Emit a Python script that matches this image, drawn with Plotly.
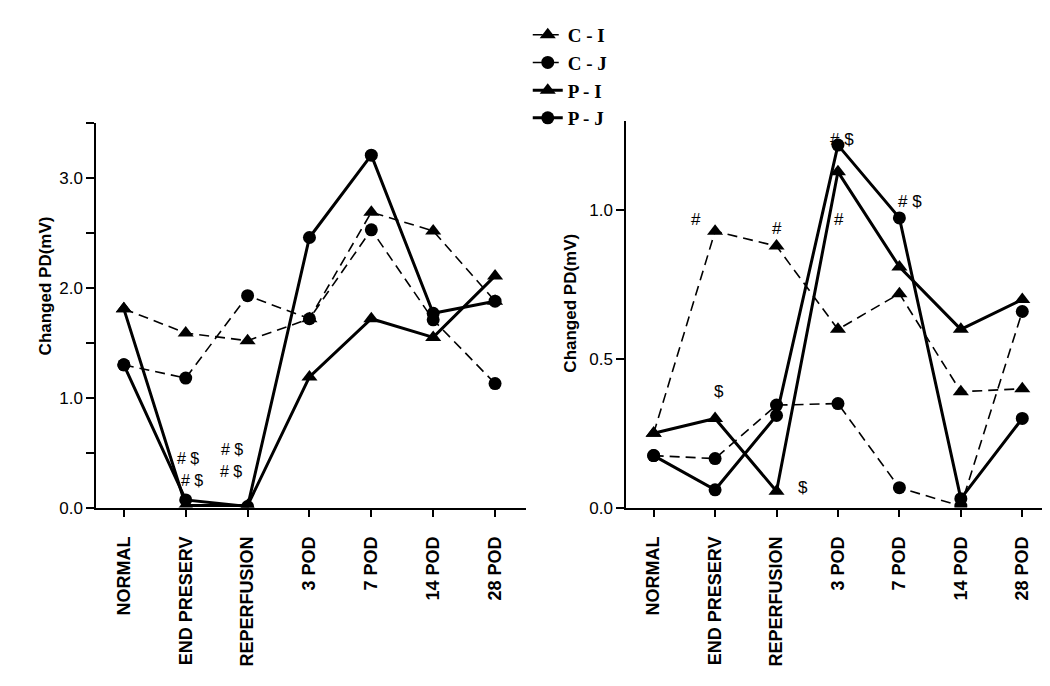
import plotly.graph_objects as go

# ---- data ----
stages = ["NORMAL", "END PRESERV", "REPERFUSION", "3 POD", "7 POD", "14 POD", "28 POD"]

# left panel
left_ci = [1.81, 1.59, 1.52, 1.72, 2.69, 2.52, 1.88]
left_cj = [1.30, 1.18, 1.93, 1.72, 2.53, 1.71, 1.13]
left_pi = [1.81, 0.02, 0.02, 1.19, 1.72, 1.55, 2.11]
left_pj = [1.30, 0.07, 0.01, 2.46, 3.21, 1.77, 1.88]

# right panel
right_ci = [0.25, 0.93, 0.88, 0.60, 0.72, 0.39, 0.40]
right_cj = [0.175, 0.165, 0.345, 0.35, 0.067, 0.005, 0.66]
right_pi = [0.25, 0.30, 0.055, 1.13, 0.81, 0.60, 0.70]
right_pj = [0.175, 0.06, 0.31, 1.22, 0.975, 0.03, 0.30]

# significance marks: (text, x position in category units, y value)
left_marks = [("# $", 1.03, 0.45), ("# $", 1.10, 0.25),
              ("# $", 1.74, 0.53), ("# $", 1.73, 0.33)]
right_marks = [("#", 0.69, 0.97), ("#", 2.0, 0.94), ("$", 1.07, 0.39),
               ("$", 2.43, 0.066), ("# $", 3.07, 1.24), ("#", 3.02, 0.97),
               ("# $", 4.18, 1.03)]

W, H = 1050, 686
SANS = "Arial, Liberation Sans, sans-serif"
SERIF = "Times New Roman, Liberation Serif, serif"
DASH = "10px,6px"

# name, dashed?, symbol
STYLES = [("C - I", True, "triangle-up"), ("C - J", True, "circle"),
          ("P - I", False, "triangle-up"), ("P - J", False, "circle")]

fig = go.Figure()


def add_panel(series, xa, ya, legend):
    for (name, dashed, sym), vals in zip(STYLES, series):
        fig.add_trace(go.Scatter(
            x=stages, y=vals, xaxis=xa, yaxis=ya, mode="lines+markers",
            name=name, showlegend=legend, legendgroup=name,
            line=dict(color="black", width=1.6 if dashed else 3,
                      dash=DASH if dashed else "solid"),
            marker=dict(symbol=sym, color="black",
                        size=13 if sym == "circle" else 14),
            hoverinfo="skip",
        ))


add_panel([left_ci, left_cj, left_pi, left_pj], "x", "y", True)
add_panel([right_ci, right_cj, right_pi, right_pj], "x2", "y2", False)

xcommon = dict(
    type="category", range=[-0.45, 6.5], showline=True, linecolor="black",
    linewidth=1.5, ticks="outside", ticklen=8, tickwidth=1.5, tickcolor="black",
    tickangle=-90, ticklabelstandoff=12,
    tickfont=dict(family=SANS, size=18, color="black", weight="bold"),
    showgrid=False, zeroline=False,
)
ycommon = dict(
    showline=True, linecolor="black", linewidth=1.5, ticks="outside",
    ticklen=8, tickwidth=1.5, tickcolor="black", tickformat=".1f",
    tickfont=dict(family=SANS, size=17, color="black"),
    showgrid=False, zeroline=False,
)

fig.update_layout(
    width=W, height=H,
    paper_bgcolor="white", plot_bgcolor="white",
    margin=dict(l=0, r=0, t=0, b=0),
    xaxis=dict(domain=[88 / W, 518 / W], anchor="y", **xcommon),
    yaxis=dict(domain=[1 - 507 / H, 1 - 117 / H], anchor="x", range=[0, 3.5],
               dtick=1, minor=dict(dtick=0.5, ticks="outside", ticklen=8,
                                   tickcolor="black", tickwidth=1.5),
               **ycommon),
    xaxis2=dict(domain=[618 / W, 1045 / W], anchor="y2", **xcommon),
    yaxis2=dict(domain=[1 - 507 / H, 1 - 115 / H], anchor="x2", range=[0, 1.3],
                dtick=0.5, **ycommon),
    showlegend=True,
    legend=dict(x=0.495, y=1 - 8 / H, xanchor="left", yanchor="top",
                font=dict(family=SERIF, size=19, color="black", weight="bold"),
                bgcolor="rgba(0,0,0,0)", itemwidth=30, tracegroupgap=0),
)

annotations = []
for txt, xv, yv in left_marks:
    annotations.append(dict(x=xv, y=yv, xref="x", yref="y", text=txt,
                            showarrow=False,
                            font=dict(family=SANS, size=16, color="black")))
for txt, xv, yv in right_marks:
    annotations.append(dict(x=xv, y=yv, xref="x2", yref="y2", text=txt,
                            showarrow=False,
                            font=dict(family=SANS, size=17, color="black")))

# y-axis titles
for xp, yp in ((26 / W, 1 - 282 / H), (563 / W, 1 - 300 / H)):
    annotations.append(dict(x=xp, y=yp, xref="paper", yref="paper",
                            text="Changed PD(mV)", textangle=-90,
                            showarrow=False,
                            font=dict(family=SANS, size=17, color="black",
                                      weight="bold")))

fig.update_layout(annotations=annotations)

fig.write_html("out.html")
